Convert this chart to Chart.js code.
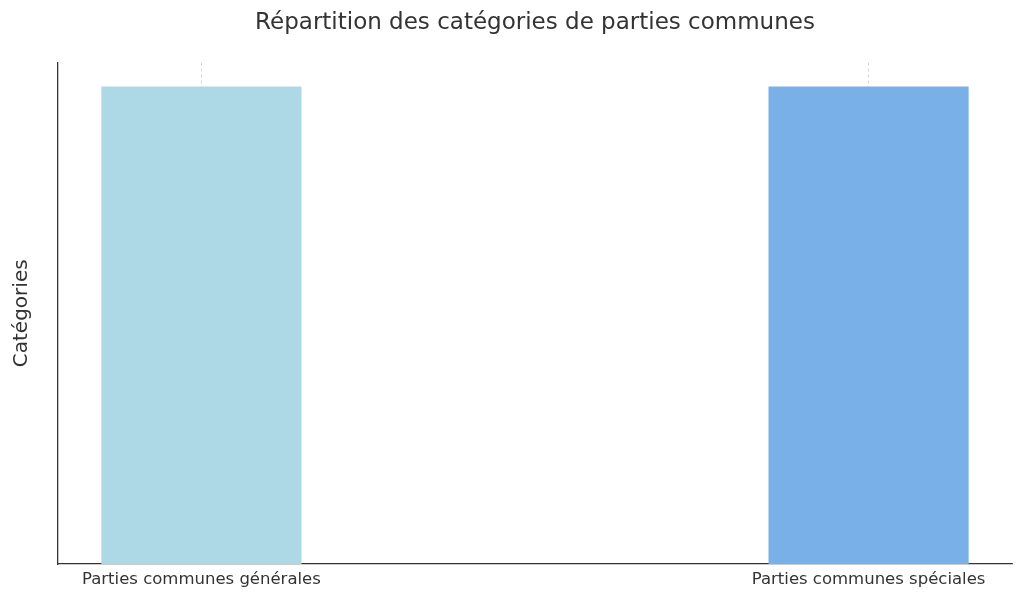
<!DOCTYPE html>
<html>
<head>
<meta charset="utf-8">
<script src="https://cdn.jsdelivr.net/npm/chart.js@4"></script>
<style>
  html, body { margin: 0; padding: 0; background: #fff; }
  #wrap { width: 1024px; height: 600px; }
</style>
</head>
<body>
<div id="wrap"><canvas id="myChart" width="1024" height="600"></canvas></div>
<script>
'use strict';
// data
const categories = ['Parties communes générales', 'Parties communes spéciales'];
const positions = [0, 1];
const values = [1, 1];
const barColors = ['#add8e6', '#78b0e7'];

const ctx = document.getElementById('myChart');
const myChart = new Chart(ctx.getContext('2d'), {
    type: 'bar',
    data: {
        datasets: [{
            label: '',
            data: positions.map((p, i) => ({ x: p, y: values[i] })),
            backgroundColor: barColors,
            borderWidth: 0,
            barPercentage: 0.3,
            categoryPercentage: 1
        }]
    },
    options: {
        responsive: false,
        animation: false,
        layout: { padding: { left: 0, right: 12, top: 0, bottom: 0 } },
        plugins: {
            legend: { display: false },
            tooltip: { enabled: false },
            title: {
                display: true,
                fullSize: false,
                text: 'Répartition des catégories de parties communes',
                color: '#333',
                font: { family: 'DejaVu Sans', size: 23, weight: 'normal' },
                padding: { top: 9, bottom: 26 }
            }
        },
        scales: {
            x: {
                type: 'linear',
                min: -0.215,
                max: 1.215,
                offset: false,
                afterBuildTicks: scale => {
                    scale.ticks = positions.map(v => ({ value: v }));
                },
                afterFit: scale => { scale.height = 36; },
                ticks: {
                    color: '#333',
                    font: { family: 'DejaVu Sans', size: 16.5 },
                    padding: 6,
                    maxRotation: 0,
                    autoSkip: false,
                    callback: value => categories[positions.indexOf(value)]
                },
                grid: {
                    offset: false,
                    color: '#cccccc',
                    lineWidth: 0.8,
                    drawTicks: false
                },
                border: { display: true, color: '#333', width: 1.3, dash: [3, 3] }
            },
            y: {
                min: 0,
                max: 1.05,
                afterFit: scale => { scale.width = 58; },
                ticks: { display: false },
                grid: { display: false },
                border: { display: true, color: '#333', width: 1.3 },
                title: {
                    display: true,
                    text: 'Catégories',
                    color: '#333',
                    font: { family: 'DejaVu Sans', size: 20 },
                    padding: { top: 10, bottom: 10 }
                }
            }
        }
    }
});
</script>
</body>
</html>
